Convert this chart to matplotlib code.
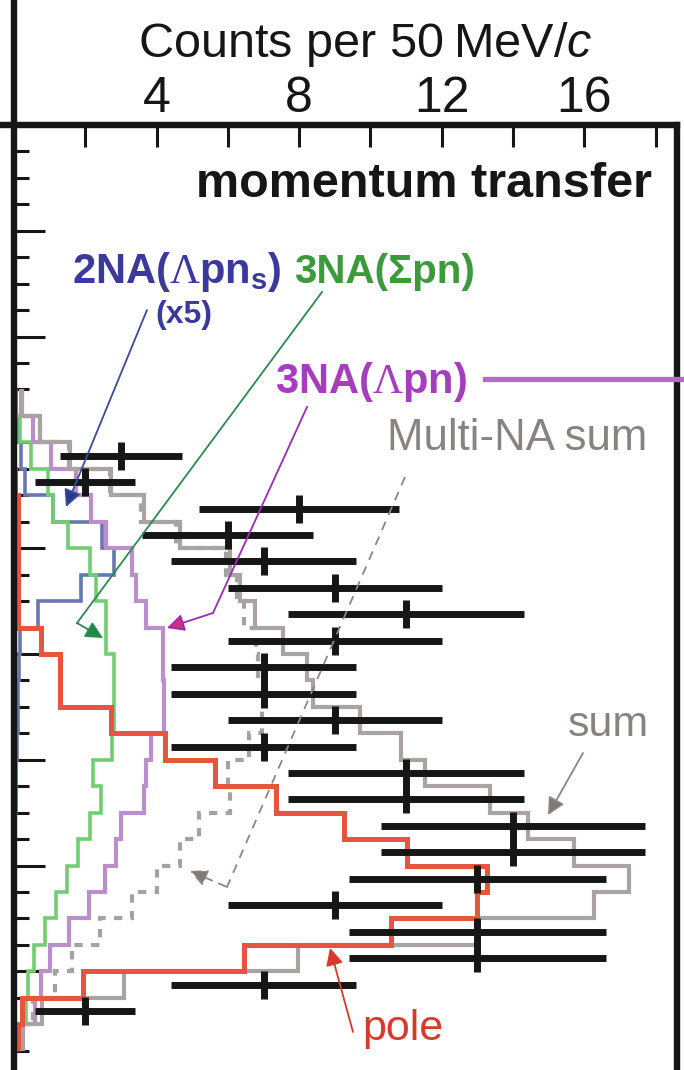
import numpy as np
import matplotlib
matplotlib.use("Agg")
import matplotlib.pyplot as plt
from matplotlib.lines import Line2D
from matplotlib.patches import FancyArrowPatch
from matplotlib.ticker import FixedLocator, NullFormatter, FixedFormatter

plt.rcParams['font.family'] = ['Liberation Sans', 'DejaVu Sans']
plt.rcParams['mathtext.fontset'] = 'custom'
plt.rcParams['mathtext.rm'] = 'Liberation Serif'
plt.rcParams['mathtext.it'] = 'Liberation Sans:italic'
plt.rcParams['mathtext.bf'] = 'Liberation Sans:bold'

# ---------------- data ----------------
# momentum-transfer bins (50 MeV/c each), bin index 10 .. 34
bin_edges = [10, 11, 12, 13, 14, 15, 16, 17, 18, 19, 20, 21, 22, 23, 24, 25,
             26, 27, 28, 29, 30, 31, 32, 33, 34, 35]
sum_counts = [0.22, 0.72, 1.56, 2.72, 3.65, 4.67, 6.06, 6.34, 6.76, 7.55,
              8.21, 8.40, 9.70, 10.87, 11.53, 13.35, 14.42, 15.72, 17.25, 16.28,
              13.00, 7.97, 3.10, 0.78, 0.26]
multi_counts = [0.22, 0.72, 1.55, 2.70, 3.55, 4.55, 5.95, 6.25, 6.45, 6.80,
                6.85, 7.00, 6.95, 6.60, 6.00, 6.06, 5.18, 4.67, 4.00, 3.30,
                2.41, 1.62, 1.15, 0.54, 0.18]
pole_counts = [0.00, 0.00, 0.00, 0.02, 0.12, 0.12, 0.12, 0.12, 0.12, 0.77,
               1.28, 1.28, 2.72, 4.24, 5.64, 7.35, 9.27, 11.03, 13.26, 12.98,
               10.57, 6.45, 1.94, 0.22, 0.10]
na3_lambda = [0.20, 0.54, 1.05, 1.75, 2.16, 2.58, 3.32, 3.42, 3.70, 4.18,
              4.18, 4.20, 4.22, 3.83, 3.70, 3.65, 3.00, 2.86, 2.55, 2.10,
              1.54, 1.00, 0.76, 0.60, 0.18]
na3_sigma = [0.00, 0.17, 0.49, 0.96, 1.10, 1.51, 2.12, 2.30, 2.58, 2.58,
             2.81, 2.81, 2.81, 2.75, 2.21, 2.44, 2.12, 1.79, 1.50, 1.17,
             0.87, 0.57, 0.40, 0.35, 0.12]
na2_x5 = [0.05, 0.10, 0.20, 0.31, 1.10, 2.48, 2.81, 1.89, 0.68, 0.17,
          0.15, 0.12, 0.10, 0.08, 0.06, 0.05, 0.04, 0.03, 0.02, 0.02,
          0.01, 0.01, 0.00, 0.00, 0.00]

data_bins = [12.5, 13.5, 14.5, 15.5, 16.5, 17.5, 18.5, 19.5, 20.5, 21.5, 22.5,
             23.5, 24.5, 25.5, 26.5, 27.5, 28.5, 29.5, 30.5, 31.5, 32.5, 33.5]
data_counts = [3, 2, 8, 6, 7, 9, 11, 9, 7, 7, 9, 7, 11, 11, 14, 14, 13, 9, 13, 13, 7, 2]
data_errors = [1.7, 1.4, 2.8, 2.4, 2.6, 3.0, 3.3, 3.0, 2.6, 2.6, 3.0, 2.6, 3.3, 3.3,
               3.7, 3.7, 3.6, 3.0, 3.6, 3.6, 2.6, 1.4]

x_major = [4, 8, 12, 16]
x_minor = [2, 6, 10, 14, 18]
x_labels = ['4', '8', '12', '16']

# ---------------- figure ----------------
W, H = 684, 1070
DPI = 100
fig = plt.figure(figsize=(W / DPI, H / DPI), dpi=DPI)

AX_L, AX_R, AX_T = 14, 677, 125
ax = fig.add_axes([AX_L / W, 0, (AX_R - AX_L) / W, (H - AX_T) / H])
ax.set_xlim(0, 18.6)
ax.set_ylim(35.73, 0)

K = '#161616'
SPW = 4.6
for s in ['top', 'left', 'right']:
    ax.spines[s].set_linewidth(SPW)
    ax.spines[s].set_color(K)
    ax.spines[s].set_zorder(9)
ax.spines['bottom'].set_visible(False)

# extensions of spines beyond the frame (panel crop)
fig.add_artist(Line2D([AX_L / W, AX_L / W], [1 - AX_T / H, 1.0], lw=SPW, color=K,
                      transform=fig.transFigure, solid_capstyle='butt'))
fig.add_artist(Line2D([0, AX_L / W], [1 - AX_T / H, 1 - AX_T / H], lw=SPW, color=K,
                      transform=fig.transFigure, solid_capstyle='butt'))

ax.xaxis.tick_top()
ax.xaxis.set_major_locator(FixedLocator(x_major))
ax.xaxis.set_major_formatter(FixedFormatter(x_labels))
ax.xaxis.set_minor_locator(FixedLocator(x_minor))
ax.xaxis.set_minor_formatter(NullFormatter())
ax.tick_params(axis='x', which='both', direction='in', length=16, width=2.2,
               color=K, top=True, bottom=False, labeltop=True, labelbottom=False,
               labelsize=36, pad=2, labelcolor=K)

ax.yaxis.set_major_locator(FixedLocator(list(range(0, 36, 4))))
ax.yaxis.set_minor_locator(FixedLocator([k for k in range(0, 36) if k % 4]))
ax.tick_params(axis='y', which='major', direction='in', length=22, width=2.2,
               color=K, left=True, right=False, labelleft=False)
ax.tick_params(axis='y', which='minor', direction='in', length=11, width=2.2,
               color=K, left=True, right=False, labelleft=False)

# ---------------- histograms ----------------
ax.stairs(na2_x5, bin_edges, orientation='horizontal', baseline=None,
          color='#6677b3', lw=2.6, zorder=2)
ax.stairs(na3_sigma, bin_edges, orientation='horizontal', baseline=None,
          color='#72cd72', lw=2.6, zorder=3)
ax.stairs(na3_lambda, bin_edges, orientation='horizontal', baseline=None,
          color='#b98fcc', lw=3.0, zorder=4)
ax.stairs(multi_counts, bin_edges, orientation='horizontal', baseline=None,
          color='#a3a3a3', lw=3.0, ls=(0, (2, 2)), zorder=5)
ax.stairs(sum_counts, bin_edges, orientation='horizontal', baseline=None,
          color='#a9a3a1', lw=3.0, zorder=6)
ax.stairs(pole_counts, bin_edges, orientation='horizontal', baseline=None,
          color='#e8553f', lw=3.6, zorder=7)

ax.errorbar(data_counts, data_bins, xerr=data_errors, fmt='|', ms=19.5, mew=5,
            elinewidth=5, capsize=0, color=K, zorder=10)


# ---------------- text & annotations (pixel positions) ----------------
def F(px, py):
    return (px / W, 1 - py / H)


def txt(px, py, s, **kw):
    fig.text(px / W, 1 - py / H, s, va='baseline', **kw)


txt(365, 57, 'Counts per 50\u2009MeV/$c$', ha='center', fontsize=35, color=K)
txt(652, 197, 'momentum transfer', ha='right', fontsize=35, fontweight='bold', color=K)

C_BLUE, C_GREEN, C_PURP, C_GRAY, C_RED = '#3b3a9c', '#3c9a3c', '#a63dbf', '#898380', '#d9392b'
txt(72, 283, r'2NA($\Lambda$pn$_\mathbf{s}$)', ha='left', fontsize=30, fontweight='bold', color=C_BLUE)
txt(155, 323, '(x5)', ha='left', fontsize=23, fontweight='bold', color=C_BLUE)
txt(294, 283, '3NA(Σpn)', ha='left', fontsize=29, fontweight='bold', color=C_GREEN)
txt(275, 393, r'3NA($\Lambda$pn)', ha='left', fontsize=30, fontweight='bold', color=C_PURP)
txt(387, 450, 'Multi-NA sum', ha='left', fontsize=31.5, color=C_GRAY)
txt(568, 736, 'sum', ha='left', fontsize=31, color=C_GRAY)
txt(362, 1040, 'pole', ha='left', fontsize=31, color=C_RED)

# purple connector line to the right
fig.add_artist(Line2D([485 / W, 1.0], [1 - 379 / H, 1 - 379 / H], lw=3.8,
                      color='#b868cc', transform=fig.transFigure, zorder=20))


def seg(p0, p1, color, lw=1.3, ls='-'):
    a, b = F(*p0), F(*p1)
    fig.add_artist(Line2D([a[0], b[0]], [a[1], b[1]], lw=lw, color=color, ls=ls,
                          transform=fig.transFigure, zorder=20))


def arrow(p0, p1, color, headcolor=None, lw=1.3, ls='-'):
    a, b = F(*p0), F(*p1)
    arr = FancyArrowPatch(a, b, transform=fig.transFigure, arrowstyle='-|>',
                          mutation_scale=26, lw=lw, color=color, linestyle=ls,
                          shrinkA=0, shrinkB=0, zorder=21)
    if headcolor is not None:
        arr.set_facecolor(headcolor)
    fig.add_artist(arr)


arrow((147, 310), (66, 507), '#3b4a9a', headcolor='#2a3890')
seg((322, 292), (77, 623), '#2a8a50')
arrow((77, 623), (103, 638), '#2a8a50', headcolor='#1d8a45')
seg((307, 407), (213, 613), '#9a2ab8')
arrow((213, 613), (167, 628), '#9a2ab8', headcolor='#d02f7a')
seg((405, 477), (227, 887), '#8a8684', lw=1.3, ls=(0, (5, 4)))
arrow((227, 887), (190, 871), '#8a8684', headcolor='#7f7a78', ls=(0, (5, 4)))
arrow((583, 753), (548, 815), '#8a8684', headcolor='#7f7a78')
arrow((353, 1032), (330, 948), '#d9392b', headcolor='#d9392b')

fig.savefig('out.png', dpi=DPI)
